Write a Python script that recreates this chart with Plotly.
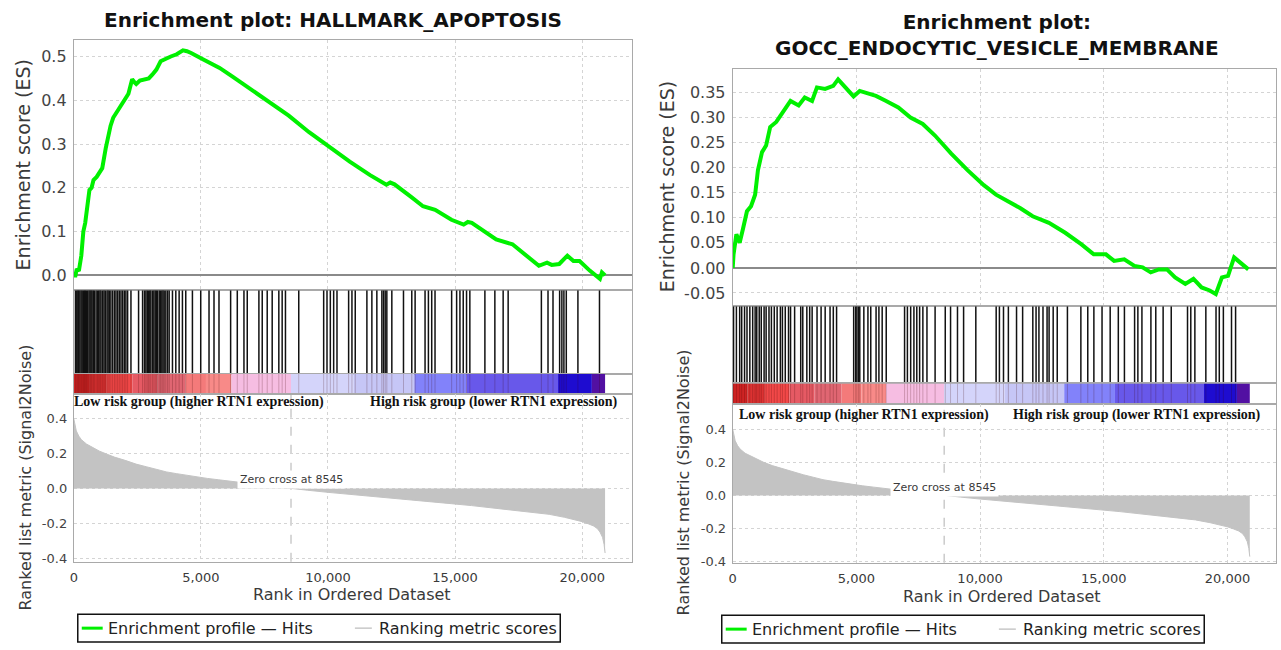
import plotly.graph_objects as go

W, H = 1281, 650


def fx(p):
    return p / W


def fy(p):
    return 1 - p / H


# ---------------- data ----------------
title_left = "Enrichment plot: HALLMARK_APOPTOSIS"
title_right = "Enrichment plot:<br>GOCC_ENDOCYTIC_VESICLE_MEMBRANE"

es_rank_left = [0, 66, 118, 200, 296, 376, 450, 536, 616, 700, 776, 900, 1016, 1120, 1256, 1350, 1448,
                1550, 1656, 1800, 1976, 2150, 2296, 2400, 2456, 2600, 2776, 2950, 3096, 3250, 3416, 3600,
                3816, 4050, 4296, 4450, 4616, 5096, 5736, 6216, 6856, 7656, 8456, 9256, 10056, 10856,
                11656, 12296, 12450, 12616, 13256, 13736, 14216, 14856, 15336, 15500, 15656, 16136,
                16616, 17256, 17736, 18296, 18616, 18800, 19096, 19300, 19416, 19656, 19896, 20296,
                20696, 20776, 20900]
es_value_left = [0.0, 0.0, 0.015, 0.01, 0.045, 0.10, 0.12, 0.16, 0.195, 0.20, 0.218, 0.225, 0.237, 0.245,
                 0.29, 0.32, 0.342, 0.36, 0.369, 0.385, 0.399, 0.415, 0.448, 0.44, 0.437, 0.445, 0.448,
                 0.45, 0.459, 0.47, 0.489, 0.495, 0.50, 0.505, 0.514, 0.512, 0.508, 0.493, 0.474, 0.455,
                 0.429, 0.399, 0.365, 0.327, 0.293, 0.26, 0.229, 0.207, 0.212, 0.208, 0.18, 0.158, 0.15,
                 0.127, 0.116, 0.122, 0.12, 0.10, 0.082, 0.071, 0.048, 0.022, 0.029, 0.024, 0.026, 0.04,
                 0.045, 0.033, 0.033, 0.011, -0.008, 0.007, 0.0]

es_rank_right = [0, 33, 148, 280, 411, 576, 740, 905, 1020, 1185, 1349, 1514, 1760, 2007, 2336, 2665,
                 2911, 3207, 3404, 3733, 4062, 4260, 4556, 4885, 5132, 5461, 5790, 6201, 6694, 7188,
                 7681, 8175, 8833, 9491, 10149, 10643, 11137, 11630, 12124, 12782, 13440, 14098, 14592,
                 15086, 15415, 15826, 16237, 16566, 16895, 17224, 17553, 17882, 18293, 18622, 18951,
                 19280, 19527, 19774, 20020, 20267, 20431, 20842]
es_value_right = [0.0, 0.027, 0.067, 0.05, 0.077, 0.113, 0.123, 0.146, 0.195, 0.231, 0.244, 0.281,
                  0.291, 0.31, 0.333, 0.324, 0.34, 0.333, 0.36, 0.357, 0.363, 0.376, 0.36, 0.342, 0.353,
                  0.347, 0.343, 0.333, 0.32, 0.30, 0.287, 0.264, 0.228, 0.195, 0.165, 0.146, 0.133,
                  0.119, 0.103, 0.09, 0.07, 0.047, 0.027, 0.027, 0.014, 0.017, 0.004, 0.001, -0.009,
                  -0.003, -0.003, -0.019, -0.032, -0.022, -0.039, -0.045, -0.052, -0.019, -0.016, 0.021,
                  0.014, -0.003]

hits_left = [66, 118, 160, 196, 240, 288, 330, 379, 420, 458, 500, 549, 600, 641, 680, 719, 770, 811, 876,
             930, 981, 1030, 1072, 1137, 1190, 1242, 1307, 1350, 1399, 1460, 1530, 1600, 1660, 1726, 1790,
             1856, 1920, 1987, 2050, 2118, 2249,
             2549, 2706, 2780, 2837, 2890, 2941, 2990, 3033, 3098, 3150, 3203, 3250, 3294, 3360, 3410,
             3464, 3510, 3556, 3621, 3690, 3752, 3882, 4013, 4144, 4274, 4405,
             4667, 4994, 5320, 5516, 5712, 6170, 6432, 6694, 6824, 7282, 7413, 7609, 7805, 8066, 8197,
             8327, 8850, 9830, 9961, 10092, 10223, 10354, 10812, 10942, 11072, 11530, 11726, 11922,
             12119, 12185, 12250, 12315, 12511, 12970, 13296, 13427, 13818, 13950, 14080, 14210, 14864,
             15060, 15190, 15320, 15450, 15580, 16172, 16564, 16890, 17087, 18394, 18655, 18851, 19112,
             19200, 19280, 19374, 19831, 20680]

hits_right = [34, 149, 281, 363, 478, 577, 692, 807, 906, 972, 1071, 1153, 1268, 1350, 1466, 1564, 1680,
              1795, 1926, 2009, 2124, 2256, 2338, 2502, 2749, 2832, 2996, 3111, 3210, 3408, 3572, 3737,
              3934, 4066, 4198,
              4889, 4971, 5020, 5086, 5136, 5300, 5465, 5580, 5794, 5909, 6041, 6205,
              6946, 7061, 7193, 7324, 7440, 7555, 7686, 7851, 8180, 8591, 8805, 9085, 9332, 9826,
              10649, 10780, 10945, 11142, 11472, 11718, 12130, 12261, 12377, 12541, 12706, 12788, 12953,
              13117, 13529, 14072, 14351, 14598, 14928, 15257, 15586, 15833, 16244, 16376, 16540, 16903,
              17100, 17397, 17725, 18383, 18515, 18680, 19124, 19535, 19667, 19832, 20161, 20326]

metric_rank = [0, 40, 100, 200, 300, 500, 750, 1000, 1250, 1600, 2050, 2450, 2850, 3250, 3650, 4050,
               4450, 4850, 5250, 5700, 6200, 6800, 7400, 8000, 8545, 9200, 10000, 10800, 11650, 12450,
               13250, 14050, 14850, 15650, 16450, 17250, 18050, 18700, 19300, 19700, 20000, 20250,
               20450, 20600, 20700, 20800, 20860, 20900]
metric_value = [0.40, 0.37, 0.33, 0.30, 0.28, 0.255, 0.235, 0.215, 0.20, 0.18, 0.16, 0.14, 0.125, 0.11,
                0.095, 0.085, 0.075, 0.066, 0.058, 0.05, 0.04, 0.03, 0.02, 0.01, 0.0, -0.01, -0.022,
                -0.032, -0.043, -0.054, -0.065, -0.076, -0.087, -0.098, -0.11, -0.122, -0.135, -0.148,
                -0.165, -0.178, -0.19, -0.203, -0.215, -0.23, -0.25, -0.28, -0.32, -0.37]

band_start = [0, 600, 1300, 2300, 3300, 4400, 5200, 6200, 8545, 11000, 13400, 15450, 19050, 20380]
band_end = [600, 1300, 2300, 3300, 4400, 5200, 6200, 8545, 11000, 13400, 15450, 19050, 20380, 20900]
band_color = ["#cf2424", "#dc3232", "#f24848", "#e65a64", "#e06672", "#f47a7a", "#f88a88", "#f6bde2",
              "#d4d4fa", "#c6c6f6", "#8282fa", "#6858ea", "#1e0cd0", "#5210a2"]

zero_cross = 8545
rank_ticks = [0, 5000, 10000, 15000, 20000]
rank_ticktext = ["0", "5,000", "10,000", "15,000", "20,000"]
es_ticks_left = [0.0, 0.1, 0.2, 0.3, 0.4, 0.5]
es_ticktext_left = ["0.0", "0.1", "0.2", "0.3", "0.4", "0.5"]
es_ticks_right = [-0.05, 0.0, 0.05, 0.10, 0.15, 0.20, 0.25, 0.30, 0.35]
es_ticktext_right = ["-0.05", "0.00", "0.05", "0.10", "0.15", "0.20", "0.25", "0.30", "0.35"]
metric_ticks = [-0.4, -0.2, 0.0, 0.2, 0.4]
metric_ticktext = ["-0.4", "-0.2", "0.0", "0.2", "0.4"]

low_label = "Low risk group (higher RTN1 expression)"
high_label = "High risk group (lower RTN1 expression)"

# ---------------- style ----------------
RANK_MAX = 21960
FRAME = "#a9a9a9"
GRID = "#d4d4d4"
GREEN = "#00f000"
SANS = "DejaVu Sans"

fig = go.Figure()
layout = dict(
    width=W, height=H, margin=dict(l=0, r=0, t=0, b=0),
    paper_bgcolor="white", plot_bgcolor="white", showlegend=False,
    annotations=[], shapes=[],
)


def key(kind, i):
    return kind if i == 1 else f"{kind}{i}"


def ref(kind, i):
    return kind if i == 1 else f"{kind}{i}"


def note(text, x, y, xanchor="center", yanchor="middle", **kw):
    d = dict(text=text, x=fx(x), y=fy(y), xref="paper", yref="paper", showarrow=False,
             xanchor=xanchor, yanchor=yanchor)
    d.update(kw)
    return d


side_cfg = [
    dict(x0=70, x1=630, es_pix=(40, 293), es_range=[-0.034, 0.5385], hits_pix=(293, 377),
         cb_pix=(377, 398), met_pix=(398, 567), met_range=[-0.42, 0.54], base=1,
         es_rank=es_rank_left, es_val=es_value_left, hits=hits_left,
         es_tv=es_ticks_left, es_tt=es_ticktext_left, title=title_left, title_xy=(330, 20),
         es_title_xy=(20, 166), met_title_xy=(22, 482), rank_title_xy=(349, 600),
         low_xy=(68, 406), high_xy=(618, 406), zc_y=0.05, legend_dx=0, legend_dy=0),
    dict(x0=731, x1=1276, es_pix=(70, 309), es_range=[-0.0763, 0.396], hits_pix=(309, 387),
         cb_pix=(387, 408), met_pix=(408, 568), met_range=[-0.407, 0.551], base=5,
         es_rank=es_rank_right, es_val=es_value_right, hits=hits_right,
         es_tv=es_ticks_right, es_tt=es_ticktext_right, title=title_right, title_xy=(996, 35),
         es_title_xy=(665, 188), met_title_xy=(682, 487), rank_title_xy=(1001, 602),
         low_xy=(735, 419), high_xy=(1263, 419), zc_y=0.05, legend_dx=646, legend_dy=1),
]

for s in side_cfg:
    b = s["base"]
    i_es, i_hit, i_cb, i_met = b, b + 1, b + 2, b + 3
    xdom = [fx(s["x0"]), fx(s["x1"])]

    def xaxis(i, grid, labels):
        return dict(domain=xdom, range=[0, RANK_MAX], anchor=ref("y", i), showline=True, mirror=True,
                    linecolor=FRAME, linewidth=1, showgrid=grid, gridcolor=GRID, griddash="dot",
                    gridwidth=1, zeroline=False, tickmode="array", tickvals=rank_ticks,
                    ticktext=rank_ticktext, showticklabels=labels,
                    ticks="outside" if labels else "", ticklen=4, tickcolor="rgba(0,0,0,0)",
                    tickfont=dict(family=SANS, size=13, color="#3a3a3a"), fixedrange=True)

    def yaxis(i, pix, rng, grid=False, tv=None, tt=None, size=13, zl=False):
        d = dict(domain=[fy(pix[1]), fy(pix[0])], range=rng, anchor=ref("x", i), showline=True,
                 mirror=True, linecolor=FRAME, linewidth=1, showgrid=grid, gridcolor=GRID,
                 griddash="dot", gridwidth=1, zeroline=zl, zerolinecolor="#8a8a8a",
                 zerolinewidth=1.5, fixedrange=True)
        if tv is not None:
            d.update(tickmode="array", tickvals=tv, ticktext=tt, showticklabels=True, ticks="outside",
                     ticklen=3, tickcolor="rgba(0,0,0,0)",
                     tickfont=dict(family=SANS, size=size, color="#444444"))
        else:
            d.update(showticklabels=False, ticks="")
        return d

    layout[key("xaxis", i_es)] = xaxis(i_es, True, False)
    layout[key("yaxis", i_es)] = yaxis(i_es, s["es_pix"], s["es_range"], True, s["es_tv"], s["es_tt"], 16, True)
    layout[key("xaxis", i_hit)] = xaxis(i_hit, False, False)
    layout[key("yaxis", i_hit)] = yaxis(i_hit, s["hits_pix"], [0, 1])
    layout[key("xaxis", i_cb)] = xaxis(i_cb, False, False)
    layout[key("yaxis", i_cb)] = yaxis(i_cb, s["cb_pix"], [0, 1])
    layout[key("xaxis", i_met)] = xaxis(i_met, True, True)
    layout[key("yaxis", i_met)] = yaxis(i_met, s["met_pix"], s["met_range"], True, metric_ticks,
                                        metric_ticktext, 13)

    # ranked list metric
    fig.add_trace(go.Scatter(x=metric_rank, y=metric_value, mode="lines", fill="tozeroy",
                             fillcolor="#c3c3c3", line=dict(color="#c3c3c3", width=1),
                             xaxis=ref("x", i_met), yaxis=ref("y", i_met), hoverinfo="skip"))

    # color bar
    mids = [(a + e) / 2 for a, e in zip(band_start, band_end)]
    widths = [e - a for a, e in zip(band_start, band_end)]
    fig.add_trace(go.Bar(x=mids, y=[1] * len(mids), width=widths, base=0,
                         marker=dict(color=band_color, line=dict(width=0)),
                         xaxis=ref("x", i_cb), yaxis=ref("y", i_cb), hoverinfo="skip"))
    hx, hy = [], []
    for h in s["hits"]:
        hx += [h, h, None]
        hy += [0, 1, None]
    fig.add_trace(go.Scatter(x=hx, y=hy, mode="lines", line=dict(color="rgba(60,0,0,0.22)", width=1),
                             xaxis=ref("x", i_cb), yaxis=ref("y", i_cb), hoverinfo="skip"))
    # hits
    fig.add_trace(go.Scatter(x=hx, y=hy, mode="lines", line=dict(color="#111111", width=1.5),
                             xaxis=ref("x", i_hit), yaxis=ref("y", i_hit), hoverinfo="skip"))
    # enrichment profile
    fig.add_trace(go.Scatter(x=s["es_rank"], y=s["es_val"], mode="lines",
                             line=dict(color=GREEN, width=4), xaxis=ref("x", i_es),
                             yaxis=ref("y", i_es), hoverinfo="skip"))

    # zero cross dashed line
    layout["shapes"].append(dict(type="line", xref=ref("x", i_met), yref=ref("y", i_met) + " domain",
                                 x0=zero_cross, x1=zero_cross, y0=0, y1=1,
                                 line=dict(color="#b0b0b0", width=1, dash="dash"), layer="below"))

    ann = layout["annotations"]
    ann.append(note(f"<b>{s['title']}</b>", *s["title_xy"],
                    font=dict(family=SANS, size=20, color="#111111")))
    ann.append(note("Enrichment score (ES)", *s["es_title_xy"], textangle=-90,
                    font=dict(family=SANS, size=19, color="#3a3a3a")))
    ann.append(note("Ranked list metric (Signal2Noise)", *s["met_title_xy"], textangle=-90,
                    font=dict(family=SANS, size=16, color="#3a3a3a")))
    ann.append(note("Rank in Ordered Dataset", *s["rank_title_xy"],
                    font=dict(family=SANS, size=16, color="#3a3a3a")))
    ann.append(note(f"<b>{low_label}</b>", *s["low_xy"], xanchor="left",
                    font=dict(family="Liberation Serif", size=14, color="#111111")))
    ann.append(note(f"<b>{high_label}</b>", *s["high_xy"], xanchor="right",
                    font=dict(family="Liberation Serif", size=14, color="#111111")))
    ann.append(dict(text=f"Zero cross at {zero_cross}", x=zero_cross, y=s["zc_y"],
                    xref=ref("x", i_met), yref=ref("y", i_met), showarrow=False, bgcolor="white",
                    xanchor="center", yanchor="middle",
                    borderpad=2, font=dict(family=SANS, size=11, color="#3a3a3a")))

    # legend box
    dx, dy = s["legend_dx"], s["legend_dy"]
    layout["shapes"].append(dict(type="rect", xref="paper", yref="paper", x0=fx(74 + dx), x1=fx(558 + dx),
                                 y0=fy(648 + dy), y1=fy(620 + dy), line=dict(color="#111111", width=1.5),
                                 fillcolor="white"))
    layout["shapes"].append(dict(type="line", xref="paper", yref="paper", x0=fx(78 + dx), x1=fx(99 + dx),
                                 y0=fy(634 + dy), y1=fy(634 + dy), line=dict(color=GREEN, width=3)))
    layout["shapes"].append(dict(type="line", xref="paper", yref="paper", x0=fx(352 + dx), x1=fx(369 + dx),
                                 y0=fy(634 + dy), y1=fy(634 + dy), line=dict(color="#c8c8c8", width=1.5)))
    ann.append(note("Enrichment profile \u2014 Hits", 102 + dx, 634 + dy, xanchor="left",
                    font=dict(family=SANS, size=16, color="#222222")))
    ann.append(note("Ranking metric scores", 374 + dx, 634 + dy, xanchor="left",
                    font=dict(family=SANS, size=16, color="#222222")))

fig.update_layout(**layout)
fig.write_html("out.html")
